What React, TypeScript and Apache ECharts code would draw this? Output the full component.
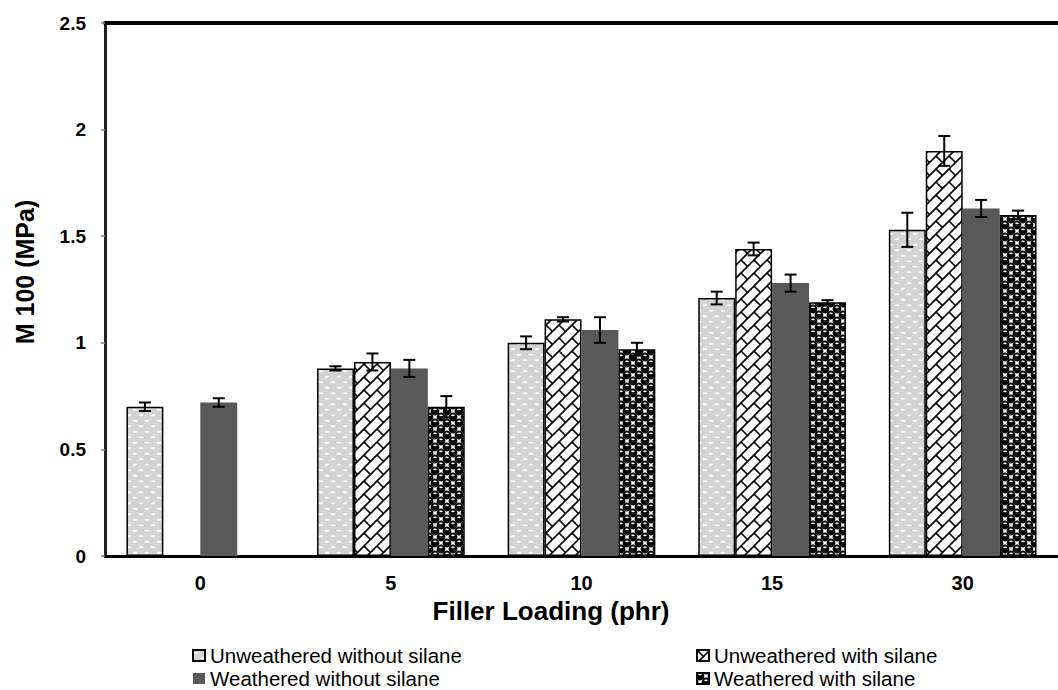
import React, { useEffect, useRef } from "react";
import * as echarts from "echarts";

const categories = ["0", "5", "10", "15", "30"];
const seriesNames = [
  "Unweathered without silane",
  "Unweathered with silane",
  "Weathered without silane",
  "Weathered with silane",
];
const unweatheredWithout = [0.7, 0.88, 1.0, 1.21, 1.53];
const unweatheredWith: (number | string)[] = ["-", 0.91, 1.11, 1.44, 1.9];
const weatheredWithout = [0.72, 0.88, 1.06, 1.28, 1.63];
const weatheredWith: (number | string)[] = ["-", 0.7, 0.97, 1.19, 1.6];

const errUnweatheredWithout = [0.02, 0.01, 0.03, 0.03, 0.08];
const errUnweatheredWith = [0, 0.04, 0.01, 0.03, 0.07];
const errWeatheredWithout = [0.02, 0.04, 0.06, 0.04, 0.04];
const errWeatheredWith = [0, 0.05, 0.03, 0.01, 0.02];

const yTicks = [0, 0.5, 1, 1.5, 2, 2.5];

const FONT = "Arial, 'Liberation Sans', sans-serif";

function makeCanvas(w: number, h: number) {
  const c = document.createElement("canvas");
  c.width = w;
  c.height = h;
  return c;
}

function dotsPattern() {
  const c = makeCanvas(12, 11);
  const ctx = c.getContext("2d")!;
  ctx.fillStyle = "#d3d3d3";
  ctx.fillRect(0, 0, 12, 11);
  ctx.fillStyle = "#ffffff";
  const pts = [
    [3, 2.75],
    [9, 8.25],
    [15, 2.75],
    [-3, 8.25],
  ];
  for (const [x, y] of pts) {
    ctx.beginPath();
    ctx.ellipse(x, y, 2.4, 1.0, 0, 0, Math.PI * 2);
    ctx.fill();
  }
  return c;
}

function weavePattern() {
  const T = 26;
  const c = makeCanvas(T, T);
  const ctx = c.getContext("2d")!;
  ctx.fillStyle = "#ffffff";
  ctx.fillRect(0, 0, T, T);
  const s = T / (2 * Math.SQRT2);
  const L = 2 * s;
  const r2 = Math.SQRT2;
  const toXY = (u: number, v: number) => [(u + v) / r2, (v - u) / r2];
  ctx.strokeStyle = "#000";
  ctx.lineWidth = 1.6;
  ctx.lineCap = "butt";
  for (let j = -4; j <= 8; j++) {
    const v = j * s;
    const a = toXY(-60, v);
    const b = toXY(60, v);
    ctx.beginPath();
    ctx.moveTo(a[0], a[1]);
    ctx.lineTo(b[0], b[1]);
    ctx.stroke();
    for (let i = -6; i <= 6; i++) {
      const u = i * L + (Math.abs(j) % 2 === 1 ? L / 2 : 0);
      const p = toXY(u, v);
      const q = toXY(u, v + s);
      ctx.beginPath();
      ctx.moveTo(p[0], p[1]);
      ctx.lineTo(q[0], q[1]);
      ctx.stroke();
    }
  }
  return c;
}

function spherePattern() {
  const T = 12;
  const c = makeCanvas(T, T);
  const ctx = c.getContext("2d")!;
  ctx.fillStyle = "#ffffff";
  ctx.fillRect(0, 0, T, T);
  const centers: number[][] = [];
  for (const [x, y] of [
    [3, 3],
    [9, 9],
  ]) {
    for (const dx of [-T, 0, T])
      for (const dy of [-T, 0, T]) centers.push([x + dx, y + dy]);
  }
  ctx.fillStyle = "#000";
  for (const [x, y] of centers) {
    ctx.beginPath();
    ctx.arc(x, y, 4.4, 0, Math.PI * 2);
    ctx.fill();
  }
  ctx.fillStyle = "#ffffff";
  for (const [x, y] of centers) {
    ctx.beginPath();
    ctx.ellipse(x, y - 1.6, 1.8, 0.8, 0, 0, Math.PI * 2);
    ctx.fill();
  }
  return c;
}

export default function App() {
  const ref = useRef<HTMLDivElement>(null);
  useEffect(() => {
    if (!ref.current) return;
    const chart = echarts.init(ref.current, undefined, { renderer: "svg" });

    const fills = [
      { image: dotsPattern(), repeat: "repeat" },
      { image: weavePattern(), repeat: "repeat" },
      "#595959",
      { image: spherePattern(), repeat: "repeat" },
    ];
    const values = [unweatheredWithout, unweatheredWith, weatheredWithout, weatheredWith];
    const errs = [errUnweatheredWithout, errUnweatheredWith, errWeatheredWithout, errWeatheredWith];
    const borders = ["#000", "#000", "#595959", "#000"];

    const errData: number[][] = [];
    values.forEach((arr, si) => {
      arr.forEach((v, ci) => {
        if (typeof v === "number") errData.push([ci, si, v, errs[si][ci]]);
      });
    });

    const gapRatio = 0.225;

    const barSeries = seriesNames.map((name, si) => ({
      name,
      type: "bar",
      data: values[si],
      barGap: "0%",
      barCategoryGap: `${gapRatio * 100}%`,
      itemStyle: {
        color: fills[si] as any,
        borderColor: borders[si],
        borderWidth: si === 2 ? 0 : 1.5,
      },
    }));

    const legendText = { fontFamily: FONT, fontSize: 20.5, color: "#000", lineHeight: 21 };

    const option: any = {
      animation: false,
      backgroundColor: "#fff",
      grid: { left: 105, top: 23, width: 965, height: 533 },
      legend: [
        {
          orient: "vertical",
          left: 192,
          top: 645,
          padding: 0,
          height: 60,
          itemWidth: 12,
          itemHeight: 11,
          itemGap: 2,
          icon: "rect",
          data: [seriesNames[0], seriesNames[2]],
          textStyle: legendText,
        },
        {
          orient: "vertical",
          left: 696,
          top: 645,
          padding: 0,
          height: 60,
          itemWidth: 12,
          itemHeight: 11,
          itemGap: 2,
          icon: "rect",
          data: [seriesNames[1], seriesNames[3]],
          textStyle: legendText,
        },
      ],
      xAxis: [
        {
          type: "category",
          data: categories,
          position: "bottom",
          axisLine: { lineStyle: { color: "#000", width: 3 } },
          axisTick: { show: false },
          axisLabel: {
            margin: 17,
            fontFamily: FONT,
            fontWeight: "bold",
            fontSize: 20,
            color: "#000",
          },
        },
        {
          type: "category",
          data: categories,
          position: "top",
          axisLine: { show: true, lineStyle: { color: "#000", width: 4 } },
          axisTick: { show: false },
          axisLabel: { show: false },
        },
      ],
      yAxis: {
        type: "value",
        min: yTicks[0],
        max: yTicks[yTicks.length - 1],
        interval: 0.5,
        splitLine: { show: false },
        axisLine: { show: true, lineStyle: { color: "#222", width: 3 } },
        axisTick: { show: true, length: 4, lineStyle: { color: "#888", width: 1.5 } },
        axisLabel: {
          margin: 19,
          fontFamily: FONT,
          fontWeight: "bold",
          fontSize: 19,
          color: "#000",
        },
      },
      graphic: [
        {
          type: "text",
          x: 25,
          y: 272,
          rotation: Math.PI / 2,
          style: {
            text: "M 100 (MPa)",
            font: `bold 25px ${FONT}`,
            fill: "#000",
            align: "center",
            verticalAlign: "middle",
          },
        },
        {
          type: "text",
          x: 551,
          y: 611,
          style: {
            text: "Filler Loading (phr)",
            font: `bold 26px ${FONT}`,
            fill: "#000",
            align: "center",
            verticalAlign: "middle",
          },
        },
      ],
      series: [
        ...barSeries,
        {
          type: "custom",
          z: 10,
          encode: { x: 0, y: 2 },
          data: errData,
          renderItem: (params: any, api: any) => {
            const ci = api.value(0);
            const si = api.value(1);
            const v = api.value(2);
            const e = api.value(3);
            const c = api.coord([ci, v]);
            const bandW = api.size([1, 0])[0];
            const barW = (bandW * (1 - gapRatio)) / 4;
            const x = c[0] + (si - 1.5) * barW;
            const yt = api.coord([ci, v + e])[1];
            const yb = api.coord([ci, v - e])[1];
            const cap = 6;
            const st = { stroke: "#000", lineWidth: 2 };
            return {
              type: "group",
              children: [
                { type: "line", shape: { x1: x, y1: yt, x2: x, y2: yb }, style: st },
                { type: "line", shape: { x1: x - cap, y1: yt, x2: x + cap, y2: yt }, style: st },
                { type: "line", shape: { x1: x - cap, y1: yb, x2: x + cap, y2: yb }, style: st },
              ],
            };
          },
        },
      ],
    };
    chart.setOption(option);
    return () => chart.dispose();
  }, []);
  return (
    <div
      ref={ref}
      style={{ position: "fixed", left: 0, top: 0, width: 1058, height: 690, background: "#fff" }}
    />
  );
}
